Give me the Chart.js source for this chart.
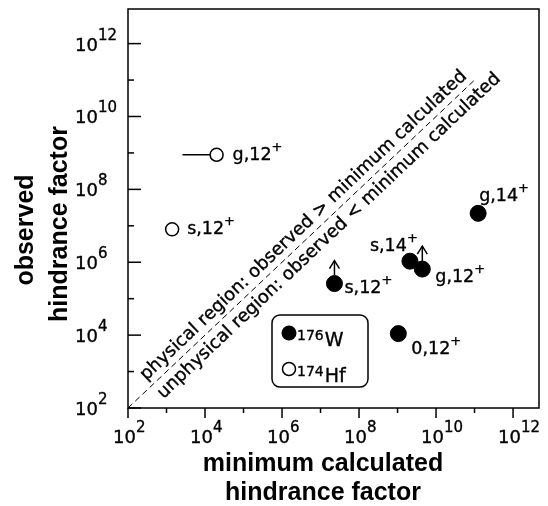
<!DOCTYPE html>
<html lang="en">
<head>
  <meta charset="UTF-8">
  <title>Hindrance factors</title>
  <script src="https://cdn.jsdelivr.net/npm/chart.js"></script>
  <style>
    body {
      margin: 0;
      background: #fff;
    }
    #wrap {
      width: 548px;
      height: 506px;
      position: relative;
    }
  </style>
</head>
<body>
  <div id="wrap"><canvas id="hindranceChart"></canvas></div>

  <script>
    // 176W states (filled circles)
    const wStates = ['g,14', 's,14', 'g,12', 's,12', '0,12'];
    const wCalculated = [1.24e11, 2.1e9, 4.4e9, 2.3e7, 1.05e9];
    const wObserved = [2.2e7, 1.07e6, 6.5e5, 2.6e5, 1.1e4];
    const wLowerLimit = [false, false, true, true, false];

    // 174Hf states (open circles)
    const hfStates = ['g,12', 's,12'];
    const hfCalculated = [2.0e4, 1.4e3];
    const hfObserved = [8.9e8, 8e6];
    const hfCalcRangeFrom = [2.6e3, null];

    const parity = '+';

    // axis decades
    const tickDecades = [2, 3, 4, 5, 6, 7, 8, 9, 10, 11, 12];
    const labelDecades = [2, 4, 6, 8, 10, 12];
    const diagonalEnds = [1e2, 1e11];

    const physicalText = 'physical region: observed > minimum calculated';
    const unphysicalText = 'unphysical region: observed < minimum calculated';
    const legendItems = [
      { mass: '176', element: 'W', filled: true },
      { mass: '174', element: 'Hf', filled: false }
    ];

    const wPoints = wCalculated.map((x, i) => ({ x: x, y: wObserved[i] }));
    const hfPoints = hfCalculated.map((x, i) => ({ x: x, y: hfObserved[i] }));
    const hfRange = [];
    hfCalcRangeFrom.forEach((from, i) => {
      if (from !== null) {
        hfRange.push({ x: from, y: hfObserved[i] }, { x: hfCalculated[i], y: hfObserved[i] });
      }
    });
    const diagonal = diagonalEnds.map(v => ({ x: v, y: v }));

    const LABEL_FONT = '17.5px "DejaVu Sans"';
    const SUP_FONT = '13px "DejaVu Sans"';

    // label placement relative to the marker (left of text, baseline)
    const labelOffsets = {
      w: [[1, -12], [-40, -10], [13, 13], [10, 9], [13, 20]],
      hf: [[16, 5], [15, 5]]
    };

    function line(ctx, x1, y1, x2, y2) {
      ctx.beginPath();
      ctx.moveTo(x1, y1);
      ctx.lineTo(x2, y2);
      ctx.stroke();
    }

    // fill plus a hairline stroke, a bit heavier like the original type
    function heavyText(ctx, s, x, y) {
      ctx.fillText(s, x, y);
      ctx.lineWidth = 0.35;
      ctx.strokeText(s, x, y);
    }

    function supText(ctx, base, sup, x, y, baseFont, supFont, raise) {
      ctx.font = baseFont;
      heavyText(ctx, base, x, y);
      const w = ctx.measureText(base).width;
      ctx.font = supFont;
      heavyText(ctx, sup, x + w, y - raise);
    }

    const overlay = {
      id: 'overlay',
      afterDatasetsDraw(chart) {
        const ctx = chart.ctx;
        const area = chart.chartArea;
        const xs = chart.scales.x;
        const ys = chart.scales.y;
        ctx.save();
        ctx.strokeStyle = '#000';
        ctx.fillStyle = '#000';
        ctx.lineWidth = 1.5;

        // frame
        ctx.strokeRect(area.left, area.top, area.right - area.left, area.bottom - area.top);

        // ticks: x outward, y inward
        tickDecades.forEach(k => {
          const major = labelDecades.includes(k);
          ctx.lineWidth = 1.5;
          const px = xs.getPixelForValue(Math.pow(10, k));
          line(ctx, px, area.bottom, px, area.bottom + (major ? 10 : 5));
          const py = ys.getPixelForValue(Math.pow(10, k));
          line(ctx, area.left, py, area.left + (major ? 13 : 6), py);
        });

        // tick labels
        ctx.textBaseline = 'alphabetic';
        ctx.textAlign = 'left';
        labelDecades.forEach(k => {
          const px = xs.getPixelForValue(Math.pow(10, k));
          supText(ctx, '10', String(k), px - 15, area.bottom + 35, '18px "DejaVu Sans"', '15px "DejaVu Sans"', 11);
          const py = ys.getPixelForValue(Math.pow(10, k));
          supText(ctx, '10', String(k), 75, py + 7, '18px "DejaVu Sans"', '15px "DejaVu Sans"', 11);
        });

        // axis titles
        ctx.font = 'bold 25px "Liberation Sans"';
        ctx.textAlign = 'center';
        ctx.fillText('minimum calculated', 323, 471);
        ctx.fillText('hindrance factor', 323, 500);
        ctx.save();
        ctx.translate(33, 230);
        ctx.rotate(-Math.PI / 2);
        ctx.fillText('observed', 0, 0);
        ctx.restore();
        ctx.save();
        ctx.translate(67, 224);
        ctx.rotate(-Math.PI / 2);
        ctx.fillText('hindrance factor', 0, 0);
        ctx.restore();

        // texts along the diagonal
        const p0 = { x: xs.getPixelForValue(diagonalEnds[0]), y: ys.getPixelForValue(diagonalEnds[0]) };
        const p1 = { x: xs.getPixelForValue(diagonalEnds[1]), y: ys.getPixelForValue(diagonalEnds[1]) };
        const ang = Math.atan2(p1.y - p0.y, p1.x - p0.x);
        const start = Math.pow(10, 2.6);
        ctx.save();
        ctx.translate(xs.getPixelForValue(start), ys.getPixelForValue(start));
        ctx.rotate(ang);
        ctx.font = '18px "DejaVu Sans"';
        ctx.textAlign = 'left';
        heavyText(ctx, physicalText, 0, -7);
        heavyText(ctx, unphysicalText, 0, 18);
        ctx.restore();

        // lower-limit arrows
        ctx.lineWidth = 1.5;
        wPoints.forEach((p, i) => {
          if (!wLowerLimit[i]) return;
          const x = xs.getPixelForValue(p.x);
          const top = ys.getPixelForValue(p.y) - 8;
          line(ctx, x, top, x, top - 15);
          ctx.beginPath();
          ctx.moveTo(x - 5, top - 7);
          ctx.lineTo(x, top - 15);
          ctx.lineTo(x + 5, top - 7);
          ctx.stroke();
        });

        // point labels
        ctx.textAlign = 'left';
        const drawLabels = (points, states, offs) => {
          points.forEach((p, i) => {
            const x = xs.getPixelForValue(p.x) + offs[i][0];
            const y = ys.getPixelForValue(p.y) + offs[i][1];
            supText(ctx, states[i], parity, x, y, LABEL_FONT, SUP_FONT, 9);
          });
        };
        drawLabels(wPoints, wStates, labelOffsets.w);
        drawLabels(hfPoints, hfStates, labelOffsets.hf);

        // legend box
        ctx.lineWidth = 1.5;
        ctx.beginPath();
        ctx.roundRect(272, 315, 96, 72, 8);
        ctx.stroke();
        legendItems.forEach((item, i) => {
          const cy = 333 + i * 36;
          ctx.lineWidth = 1.5;
          ctx.beginPath();
          ctx.arc(289, cy, item.filled ? 7.5 : 6.5, 0, Math.PI * 2);
          if (item.filled) {
            ctx.fill();
          } else {
            ctx.fillStyle = '#fff';
            ctx.fill();
            ctx.fillStyle = '#000';
            ctx.stroke();
          }
          ctx.font = '14px "DejaVu Sans"';
          heavyText(ctx, item.mass, 297, cy + 7);
          const w = ctx.measureText(item.mass).width;
          ctx.font = '19px "DejaVu Sans"';
          heavyText(ctx, item.element, 297 + w + 1, cy + 13);
        });

        ctx.restore();
      }
    };

    window.addEventListener('DOMContentLoaded', () => {
      const ctx = document.getElementById('hindranceChart').getContext('2d');
      new Chart(ctx, {
        type: 'scatter',
        data: {
          datasets: [
            {
              label: '176W',
              data: wPoints,
              pointRadius: 8,
              pointBackgroundColor: '#000',
              pointBorderColor: '#000',
              pointBorderWidth: 1
            },
            {
              label: '174Hf',
              data: hfPoints,
              pointRadius: 6.5,
              pointBackgroundColor: '#fff',
              pointBorderColor: '#000',
              pointBorderWidth: 1.5
            },
            {
              type: 'line',
              label: '174Hf range',
              data: hfRange,
              borderColor: '#000',
              borderWidth: 1.5,
              pointRadius: 0,
              fill: false
            },
            {
              type: 'line',
              label: 'observed = calculated',
              data: diagonal,
              borderColor: '#000',
              borderWidth: 1,
              borderDash: [6, 4],
              pointRadius: 0,
              fill: false
            }
          ]
        },
        options: {
          responsive: true,
          maintainAspectRatio: false,
          animation: false,
          events: [],
          layout: {
            padding: { left: 128, top: 6, right: 8, bottom: 98 }
          },
          plugins: {
            legend: { display: false },
            tooltip: { enabled: false }
          },
          scales: {
            x: {
              type: 'logarithmic',
              min: 1e2,
              max: Math.pow(10, 12.674),
              display: false
            },
            y: {
              type: 'logarithmic',
              min: 1e2,
              max: Math.pow(10, 12.95),
              display: false
            }
          }
        },
        plugins: [overlay]
      });
    });
  </script>
</body>
</html>
